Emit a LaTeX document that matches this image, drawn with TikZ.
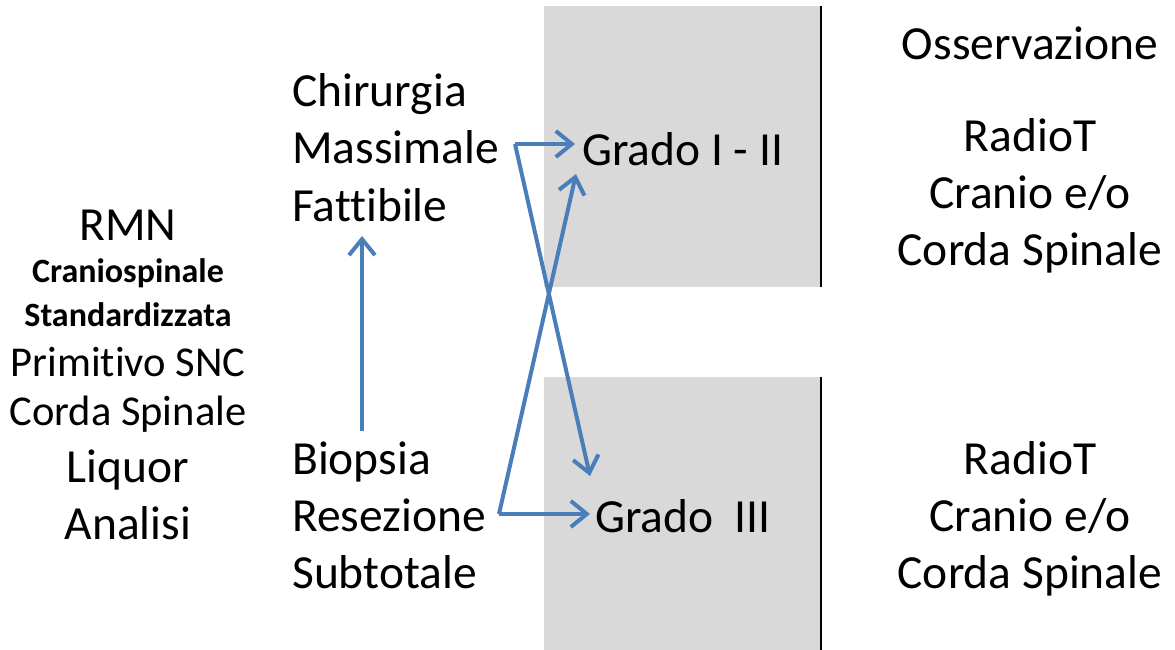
\documentclass[tikz,border=0pt]{standalone}
\usepackage{fontspec}
\setmainfont[Ligatures=NoCommon]{Carlito}
\usetikzlibrary{arrows.meta}
\definecolor{arrblue}{HTML}{4A7EBB}
\definecolor{boxgray}{HTML}{D9D9D9}
\tikzset{
  big/.style={font=\fontsize{47.5}{54}\selectfont, inner sep=0pt},
  mid/.style={font=\fontsize{42.5}{48}\selectfont, inner sep=0pt},
  small/.style={font=\fontsize{34}{40}\selectfont\bfseries, inner sep=0pt},
  conn/.style={draw=arrblue, line width=4pt, -{Straight Barb[length=16pt,width=26pt,line width=4pt]}},
  sep/.style={draw=black, line width=2.5pt}
}
\begin{document}
\begin{tikzpicture}[x=1pt,y=-1pt]
\useasboundingbox (0,0) rectangle (1175,650);
% boxes
\fill[boxgray] (544,6) rectangle (821,287);
\fill[boxgray] (544,377) rectangle (821,650);
\draw[sep] (821,6) -- (821,287);
\draw[sep] (821,377) -- (821,650);
% left column
\node[big, anchor=base] (rmn) at (128,240) {RMN};
\node[small, anchor=base] (cs) at (128,282) {Craniospinale};
\node[small, anchor=base] (st) at (128,326) {Standardizzata};
\node[mid, anchor=base] (prim) at (128,376) {Primitivo SNC};
\node[mid, anchor=base] (corda) at (128,425) {Corda Spinale};
\node[big, anchor=base] (liq) at (128,482) {Liquor};
\node[big, anchor=base] (an) at (128,539) {Analisi};
% middle column
\node[big, anchor=base west] (chir) at (292,107) {Chirurgia};
\node[big, anchor=base west] (mass) at (292,164) {Massimale};
\node[big, anchor=base west] (fatt) at (292,221) {Fattibile};
\node[big, anchor=base west] (biop) at (292,474) {Biopsia};
\node[big, anchor=base west] (res) at (292,531) {Resezione};
\node[big, anchor=base west] (sub) at (292,588) {Subtotale};
% grades
\node[big, anchor=base west] (g1) at (582,165) {Grado I - II};
\node[big, anchor=base west] (g3) at (595,532) {Grado\ \ III};
% right column
\node[big, anchor=base] (oss) at (1030,60) {Osservazione};
\node[big, anchor=base] (r1) at (1030,152) {RadioT};
\node[big, anchor=base] (c1) at (1030,208) {Cranio e/o};
\node[big, anchor=base] (s1) at (1030,265) {Corda Spinale};
\node[big, anchor=base] (r2) at (1030,474) {RadioT};
\node[big, anchor=base] (c2) at (1030,531) {Cranio e/o};
\node[big, anchor=base] (s2) at (1030,588) {Corda Spinale};
% connectors
\coordinate (ma) at (515,144);
\coordinate (ra) at (499,514);
\coordinate (t1) at (575,144);
\coordinate (t2) at (590,476);
\coordinate (t3) at (590,514);
\coordinate (t4) at (576,174);
\coordinate (vb) at (362,431);
\coordinate (vt) at (362,236);
\draw[conn] (ma) -- (t1);
\draw[conn] (ma) -- (t2);
\draw[conn] (ra) -- (t3);
\draw[conn] (ra) -- (t4);
\draw[conn] (vb) -- (vt);
\end{tikzpicture}
\end{document}
